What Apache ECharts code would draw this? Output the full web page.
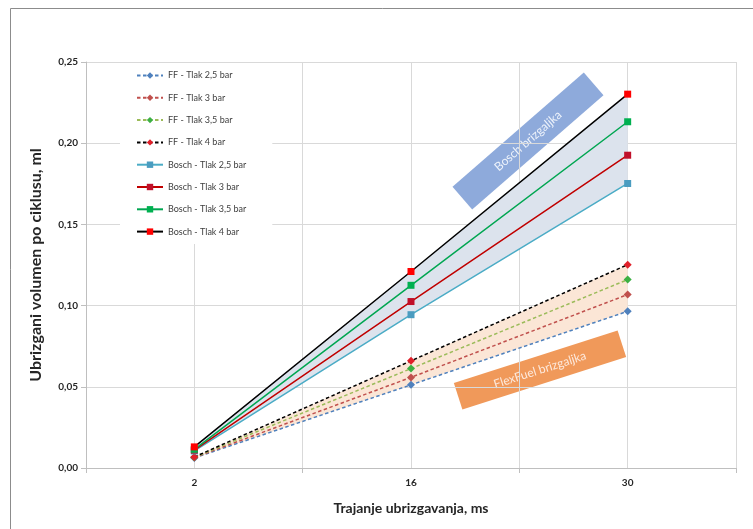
<!DOCTYPE html>
<html><head><meta charset="utf-8">
<script src="https://cdn.jsdelivr.net/npm/echarts@6/dist/echarts.min.js"></script>
<style>html,body{margin:0;padding:0;background:#fff}#c{width:753px;height:529px}</style>
</head><body><div id="c"></div>
<script>
const categories = ['2', '16', '30'];
const ff25 = [0.0062, 0.0512, 0.0965];
const ff30 = [0.0064, 0.0558, 0.1068];
const ff35 = [0.0066, 0.0612, 0.1160];
const ff40 = [0.0068, 0.0660, 0.1252];
const bosch25 = [0.0105, 0.0944, 0.1752];
const bosch30 = [0.0110, 0.1025, 0.1926];
const bosch35 = [0.0115, 0.1125, 0.2132];
const bosch40 = [0.0130, 0.1210, 0.2302];
const yTicks = [0, 0.05, 0.10, 0.15, 0.20, 0.25];

const FONT = 'Lato, "Open Sans", sans-serif';
const chart = echarts.init(document.getElementById('c'));

function diff(a, b) { return a.map((v, i) => +(v - b[i]).toFixed(5)); }

function ffSeries(name, data, color, markerColor) {
  return {
    name, type: 'line', data, z: 5,
    symbol: 'diamond', symbolSize: 8,
    itemStyle: { color: markerColor || color },
    lineStyle: { color, width: 1.5, type: [3.5, 2.5] },
    animation: false
  };
}
function boschSeries(name, data, color, markerColor) {
  return {
    name, type: 'line', data, z: 6,
    symbol: 'rect', symbolSize: 7,
    itemStyle: { color: markerColor || color },
    lineStyle: { color, width: 1.5 },
    animation: false
  };
}

const option = {
  animation: false,
  textStyle: { fontFamily: FONT },
  graphic: [
    { type: 'rect', z: -10, shape: { x: 10.5, y: 8.5, width: 800, height: 600 },
      style: { fill: 'none', stroke: '#8c8c8c', lineWidth: 1 } },
    { type: 'group', x: 528, y: 141, rotation: 41 * Math.PI / 180, z: 100, children: [
      { type: 'rect', shape: { x: -87, y: -15, width: 174, height: 30 }, style: { fill: '#8eaadb' } },
      { type: 'text', x: 0, y: 0, style: { text: 'Bosch brizgaljka', fill: '#eef3fb', font: '12px ' + FONT, align: 'center', verticalAlign: 'middle' } }
    ]},
    { type: 'group', x: 540, y: 370, rotation: 17.8 * Math.PI / 180, z: 100, children: [
      { type: 'rect', shape: { x: -86, y: -14, width: 172, height: 28 }, style: { fill: '#f0995a' } },
      { type: 'text', x: 0, y: 0, style: { text: 'FlexFuel brizgaljka', fill: '#fde9dc', font: '12px ' + FONT, align: 'center', verticalAlign: 'middle' } }
    ]}
  ],
  legend: {
    orient: 'vertical', left: 120, top: 63,
    padding: [8, 26, 8, 16],
    backgroundColor: '#ffffff',
    itemWidth: 26, itemHeight: 8, itemGap: 13.3,
    textStyle: { fontSize: 9, color: '#404040', fontFamily: FONT },
    data: ['FF - Tlak 2,5 bar', 'FF - Tlak 3 bar', 'FF - Tlak 3,5 bar', 'FF - Tlak 4 bar',
           'Bosch - Tlak 2,5 bar', 'Bosch - Tlak 3 bar', 'Bosch - Tlak 3,5 bar', 'Bosch - Tlak 4 bar'],
    z: 20
  },
  grid: { left: 86, right: 17, top: 62, bottom: 61 },
  xAxis: [
    {
      type: 'category', data: categories, boundaryGap: true,
      axisLine: { lineStyle: { color: '#bfbfbf', width: 1 } },
      axisTick: { show: true, length: 5, lineStyle: { color: '#bfbfbf' } },
      axisLabel: { fontSize: 10, fontWeight: 'bold', color: '#262626', margin: 10 },
      splitLine: { show: false },
      name: 'Trajanje ubrizgavanja, ms', nameLocation: 'middle', nameGap: 33,
      nameTextStyle: { fontSize: 14, fontWeight: 'bold', color: '#262626' }
    },
    {
      type: 'value', min: 0, max: 6, interval: 1, position: 'bottom',
      axisLine: { show: false }, axisTick: { show: false }, axisLabel: { show: false },
      splitLine: { show: true, lineStyle: { color: '#d9d9d9', width: 1 } }
    }
  ],
  yAxis: {
    type: 'value', min: 0, max: 0.25, interval: 0.05,
    axisLine: { show: true, lineStyle: { color: '#bfbfbf' } },
    axisTick: { show: true, inside: false, length: 5, lineStyle: { color: '#bfbfbf' } },
    axisLabel: { fontSize: 10, fontWeight: 'bold', color: '#262626', margin: 8,
      formatter: v => v.toFixed(2).replace('.', ',') },
    splitLine: { show: true, lineStyle: { color: '#d9d9d9', width: 1 } },
    name: 'Ubrizgani volumen po ciklusu, ml', nameLocation: 'middle', nameGap: 42,
    nameTextStyle: { fontSize: 16, fontWeight: 'bold', color: '#262626' }
  },
  series: [
    { name: 'boschBase', type: 'line', stack: 'bosch', data: bosch25, symbol: 'none',
      lineStyle: { opacity: 0 }, silent: true, z: 1 },
    { name: 'boschBand', type: 'line', stack: 'bosch', data: diff(bosch40, bosch25), symbol: 'none',
      lineStyle: { opacity: 0 }, areaStyle: { color: '#dce3ed', opacity: 1 }, silent: true, z: 1 },
    { name: 'ffBase', type: 'line', stack: 'ff', data: ff25, symbol: 'none',
      lineStyle: { opacity: 0 }, silent: true, z: 1 },
    { name: 'ffBand', type: 'line', stack: 'ff', data: diff(ff40, ff25), symbol: 'none',
      lineStyle: { opacity: 0 }, areaStyle: { color: '#fbe6d6', opacity: 1 }, silent: true, z: 1 },
    ffSeries('FF - Tlak 2,5 bar', ff25, '#4f81bd'),
    ffSeries('FF - Tlak 3 bar', ff30, '#c0504d'),
    ffSeries('FF - Tlak 3,5 bar', ff35, '#9bbb59', '#3cb043'),
    ffSeries('FF - Tlak 4 bar', ff40, '#000000', '#e0202a'),
    boschSeries('Bosch - Tlak 2,5 bar', bosch25, '#4bacc6', '#4a9cc0'),
    boschSeries('Bosch - Tlak 3 bar', bosch30, '#c00000', '#c0102a'),
    boschSeries('Bosch - Tlak 3,5 bar', bosch35, '#00a651', '#00b050'),
    boschSeries('Bosch - Tlak 4 bar', bosch40, '#000000', '#ff0000')
  ]
};
chart.setOption(option);
</script></body></html>
